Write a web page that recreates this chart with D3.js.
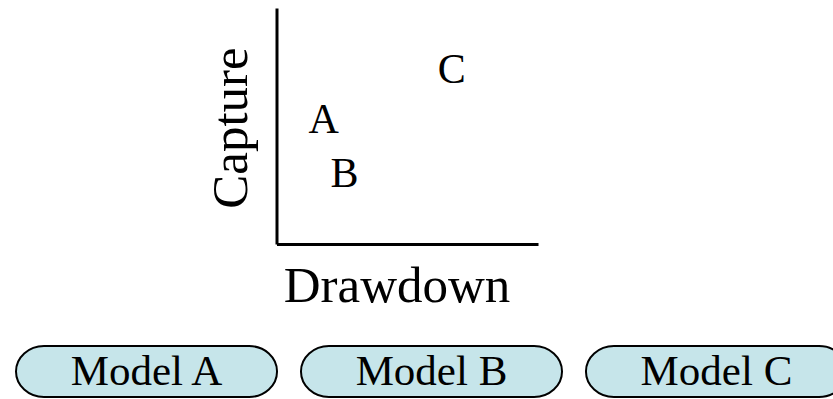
<!DOCTYPE html>
<html>
<head>
<meta charset="utf-8">
<script src="https://cdn.jsdelivr.net/npm/d3@7"></script>
<style>
  body { margin: 0; background: #fff; }
  text { font-family: "Liberation Serif", "Times New Roman", serif; fill: #000; }
</style>
</head>
<body>
<div id="svg-container"></div>
<script>
// punten op de grafiek
const labels = ["A", "B", "C"]
const drawdown = [1.8, 2.6, 6.7]
const capture = [5.3, 3.0, 7.4]
// knoppen onderaan
const models = ["Model A", "Model B", "Model C"]

const width = 833
const height = 399

const svg = d3.select('#svg-container')
    .append('svg').attr('width', width).attr('height', height)

// schalen
const xScale = d3.scaleLinear().domain([0, 10]).range([276.5, 538])
const yScale = d3.scaleLinear().domain([0, 10]).range([244, 8])

// assen zonder ticks
svg.append('g')
    .attr('transform', `translate(0, ${yScale(0)})`)
    .call(d3.axisBottom(xScale).ticks(0).tickSizeOuter(0))
    .call(g => g.select('.domain').attr('stroke', '#000').attr('stroke-width', 3))
svg.append('g')
    .attr('transform', `translate(${xScale(0)}, 0)`)
    .call(d3.axisLeft(yScale).ticks(0).tickSizeOuter(0))
    .call(g => g.select('.domain').attr('stroke', '#000').attr('stroke-width', 3))

// letters als punten
svg.selectAll('.pt').data(labels)
    .enter().append('text')
    .attr('class', 'pt')
    .attr('x', (d, i) => xScale(drawdown[i]))
    .attr('y', (d, i) => yScale(capture[i]))
    .attr('dy', '0.33em')
    .attr('text-anchor', 'middle')
    .attr('font-size', 42)
    .text(d => d)

// as labels
svg.append('text')
    .attr('x', 397).attr('y', 302)
    .attr('text-anchor', 'middle')
    .attr('font-size', 51)
    .text('Drawdown')
svg.append('text')
    .attr('transform', 'translate(247, 128) rotate(-90)')
    .attr('text-anchor', 'middle')
    .attr('font-size', 51)
    .text('Capture')

// knoppen
const band = d3.scaleBand().domain(models).range([16, 847]).paddingInner(0.084)
const btn = svg.selectAll('.btn').data(models)
    .enter().append('g')
    .attr('class', 'btn')
    .attr('transform', d => `translate(${band(d)}, 346)`)
btn.append('rect')
    .attr('width', band.bandwidth())
    .attr('height', 51)
    .attr('rx', 28).attr('ry', 25.5)
    .attr('fill', '#c6e5ea')
    .attr('stroke', '#000')
    .attr('stroke-width', 2)
btn.append('text')
    .attr('x', band.bandwidth() / 2)
    .attr('y', 39)
    .attr('text-anchor', 'middle')
    .attr('font-size', 43)
    .text(d => d)
</script>
</body>
</html>
